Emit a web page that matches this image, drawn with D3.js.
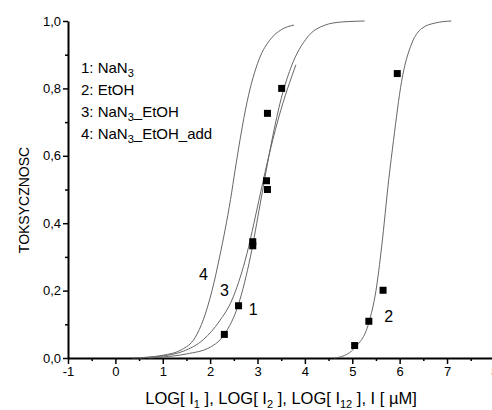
<!DOCTYPE html>
<html>
<head>
<meta charset="utf-8">
<script src="https://cdn.jsdelivr.net/npm/d3@7"></script>
<style>
	body { margin: 0; background: #fff; }
	svg { font-family: "Liberation Sans", Arial, sans-serif; }
</style>
</head>
<body>
<svg id="chart" width="492" height="410"></svg>
<script>
(function() {

	// fitted curves
	const curve1 = [[0.7, 0.0], [1.0, 0.003], [1.5, 0.012], [2.0, 0.032], [2.3, 0.07], [2.6, 0.16],
		[2.85, 0.30], [3.06, 0.46], [3.31, 0.65], [3.5, 0.77], [3.7, 0.86], [4.06, 0.953],
		[4.41, 0.987], [4.77, 0.997], [5.26, 1.0]];
	const curve2 = [[4.62, 0.0], [4.77, 0.004], [5.05, 0.03], [5.35, 0.105], [5.5, 0.2], [5.62, 0.33],
		[5.77, 0.53], [5.87, 0.645], [6.04, 0.82], [6.26, 0.935], [6.47, 0.978], [6.75, 0.994], [7.09, 1.0]];
	const curve3 = [[0.5, 0.0], [0.94, 0.005], [1.43, 0.02], [1.86, 0.055], [2.2, 0.11], [2.46, 0.172],
		[2.74, 0.29], [3.03, 0.468], [3.17, 0.558], [3.45, 0.715], [3.81, 0.87]];
	const curve4 = [[0.36, 0.0], [0.8, 0.004], [1.0, 0.008], [1.4, 0.025], [1.68, 0.06], [1.86, 0.115],
		[2.04, 0.2], [2.2, 0.3], [2.43, 0.47], [2.53, 0.56], [2.64, 0.655], [2.78, 0.76], [3.03, 0.885],
		[3.28, 0.947], [3.5, 0.974], [3.77, 0.988]];

	// measured points
	const pointsNaN3X = [2.30, 2.60, 2.90, 3.21, 3.51];
	const pointsNaN3Y = [0.07, 0.155, 0.333, 0.50, 0.80];
	const pointsMixX = [2.90, 3.19, 3.21];
	const pointsMixY = [0.345, 0.526, 0.726];
	const pointsEtOHX = [5.05, 5.35, 5.65, 5.95];
	const pointsEtOHY = [0.037, 0.109, 0.201, 0.844];

	const curveLabels = ["1", "2", "3", "4"];
	const curveLabelPos = [[2.91, 0.143], [5.77, 0.122], [2.3, 0.202], [1.86, 0.249]];
	const legendNames = ["NaN", "EtOH", "NaN", "NaN"];
	const legendSub = ["3", "", "3", "3"];
	const legendRest = ["", "", "_EtOH", "_EtOH_add"];

	const yTicks = [0, 0.2, 0.4, 0.6, 0.8, 1.0];
	const xTicks = [-1, 0, 1, 2, 3, 4, 5, 6, 7, 8];

	const svg = d3.select("#chart");
	const x = d3.scaleLinear().domain([-1, 8]).range([68, 494.4]);
	const y = d3.scaleLinear().domain([0, 1]).range([358, 21]);

	// minor ticks first
	svg.append("g")
		.attr("transform", "translate(68,0)")
		.call(d3.axisLeft(y).tickValues(d3.range(0.1, 1, 0.2)).tickSize(3).tickFormat(""))
		.call(g => g.select(".domain").remove())
		.selectAll("line").attr("stroke-width", 1.5);
	svg.append("g")
		.attr("transform", "translate(0,358)")
		.call(d3.axisBottom(x).tickValues(d3.range(-0.5, 8, 1)).tickSize(3).tickFormat(""))
		.call(g => g.select(".domain").remove())
		.selectAll("line").attr("stroke-width", 1.5);

	const fmt = d => d3.format(".1f")(d).replace(".", ",");

	const yAxis = svg.append("g")
		.attr("transform", "translate(68,0)")
		.call(d3.axisLeft(y).tickValues(yTicks).tickSize(5).tickSizeOuter(0).tickFormat(fmt));
	yAxis.select(".domain").attr("stroke-width", 2);
	yAxis.selectAll("line").attr("stroke-width", 1.5);
	yAxis.selectAll("text").attr("font-size", 13).attr("font-family", "Liberation Sans, Arial").attr("x", -7);

	const xAxis = svg.append("g")
		.attr("transform", "translate(0,358)")
		.call(d3.axisBottom(x).tickValues(xTicks).tickSize(6).tickSizeOuter(0).tickFormat(d => String(d)));
	xAxis.select(".domain").attr("stroke-width", 2);
	xAxis.selectAll("line").attr("stroke-width", 1.5);
	xAxis.selectAll("text").attr("font-size", 13).attr("font-family", "Liberation Sans, Arial").attr("y", 9);

	// curves
	const line = d3.line()
		.x(d => x(d[0]))
		.y(d => y(d[1]))
		.curve(d3.curveMonotoneX);
	[curve1, curve2, curve3, curve4].forEach(function(c) {
		svg.append("path")
			.attr("d", line(c))
			.attr("fill", "none")
			.attr("stroke", "#666")
			.attr("stroke-width", 1);
	});

	// squares
	function drawPoints(xs, ys) {
		svg.append("g").selectAll("rect")
			.data(xs)
			.join("rect")
			.attr("x", (d, i) => x(d) - 3.5)
			.attr("y", (d, i) => y(ys[i]) - 3.5)
			.attr("width", 7)
			.attr("height", 7)
			.attr("fill", "#000");
	}
	drawPoints(pointsNaN3X, pointsNaN3Y);
	drawPoints(pointsMixX, pointsMixY);
	drawPoints(pointsEtOHX, pointsEtOHY);

	// curve numbers
	svg.append("g").selectAll("text")
		.data(curveLabels)
		.join("text")
		.attr("x", (d, i) => x(curveLabelPos[i][0]))
		.attr("y", (d, i) => y(curveLabelPos[i][1]))
		.attr("text-anchor", "middle")
		.attr("dy", "0.35em")
		.attr("font-size", 16)
		.text(d => d);

	// legend
	const legend = svg.append("g").attr("font-size", 15);
	legendNames.forEach(function(name, i) {
		const t = legend.append("text")
			.attr("x", 81)
			.attr("y", 73 + i * 22);
		t.append("tspan").text((i + 1) + ": " + name);
		if (legendSub[i]) {
			t.append("tspan").attr("font-size", 11).attr("dy", 4).text(legendSub[i]);
			t.append("tspan").attr("dy", -4).text(legendRest[i]);
		}
	});

	// axis titles
	svg.append("text")
		.attr("transform", "translate(29,200) rotate(-90)")
		.attr("text-anchor", "middle")
		.attr("font-size", 14)
		.text("TOKSYCZNOSC");

	const xt = svg.append("text")
		.attr("x", 281)
		.attr("y", 404)
		.attr("text-anchor", "middle")
		.attr("font-size", 16.5);
	xt.append("tspan").text("LOG[ I");
	xt.append("tspan").attr("font-size", 11).attr("dy", 4).text("1");
	xt.append("tspan").attr("dy", -4).text(" ],  LOG[ I");
	xt.append("tspan").attr("font-size", 11).attr("dy", 4).text("2");
	xt.append("tspan").attr("dy", -4).text(" ],  LOG[ I");
	xt.append("tspan").attr("font-size", 11).attr("dy", 4).text("12");
	xt.append("tspan").attr("dy", -4).text(" ], I [ \u00b5M]");

})();
</script>
</body>
</html>
